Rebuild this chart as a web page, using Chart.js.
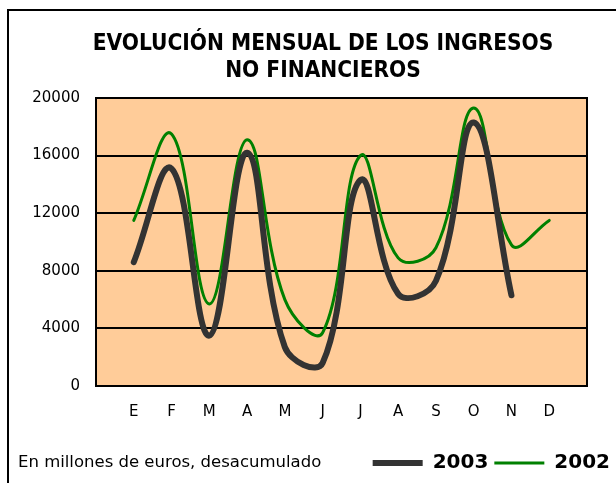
<!DOCTYPE html>
<html>
<head>
<meta charset="utf-8">
<script src="https://cdn.jsdelivr.net/npm/chart.js@4/dist/chart.umd.min.js"></script>
<style>
  html, body { margin: 0; padding: 0; background: #fff; }
  #wrap { width: 616px; height: 483px; }
</style>
</head>
<body>
<div id="wrap"><canvas id="lineChart" width="616" height="483"></canvas></div>
<script>
/* DATA */
const months = ["E", "F", "M", "A", "M", "J", "J", "A", "S", "O", "N", "D"];
const ingresos2003 = [8600, 15100, 3500, 16200, 2700, 1600, 14300, 6400, 7300, 18300, 6300, null];
const ingresos2002 = [11500, 17500, 5700, 17100, 6000, 3700, 16000, 8900, 9600, 19300, 9800, 11500];
const yTicks = [0, 4000, 8000, 12000, 16000, 20000];
const footnote = "En millones de euros, desacumulado";

Chart.defaults.color = "#000";
Chart.defaults.font.family = "'DejaVu Sans', Verdana, sans-serif";

/* background, plot frame, outer frame and footnote */
const decor = {
    id: "decor",
    beforeDraw(chart) {
        const {ctx, chartArea: a} = chart;
        ctx.save();
        ctx.fillStyle = "#FFCC99";
        ctx.fillRect(a.left, a.top, a.right - a.left, a.bottom - a.top);
        ctx.restore();
    },
    beforeDatasetsDraw(chart) {
        const {ctx, chartArea: a} = chart;
        ctx.save();
        ctx.strokeStyle = "#000";
        ctx.lineWidth = 2;
        ctx.strokeRect(a.left, a.top, a.right - a.left, a.bottom - a.top);
        ctx.restore();
    },
    afterDraw(chart) {
        const ctx = chart.ctx;
        ctx.save();
        ctx.strokeStyle = "#000";
        ctx.lineWidth = 2;
        ctx.strokeRect(8, 10, 800, 800);
        ctx.fillStyle = "#000";
        ctx.font = "16.5px 'DejaVu Sans'";
        ctx.textBaseline = "middle";
        ctx.fillText(footnote, 18, 463);
        ctx.restore();
    }
};

const toPoints = arr => arr.map((v, i) => ({x: i, y: v}));

new Chart(document.getElementById("lineChart"), {
    type: "line",
    data: {
        datasets: [{
            label: "2003",
            data: toPoints(ingresos2003),
            borderColor: "#333333",
            backgroundColor: "#333333",
            borderWidth: 6,
            borderCapStyle: "round",
            tension: 0.4,
            pointRadius: 0
        }, {
            label: "2002",
            data: toPoints(ingresos2002),
            borderColor: "#008000",
            backgroundColor: "#008000",
            borderWidth: 3,
            borderCapStyle: "round",
            tension: 0.4,
            pointRadius: 0
        }]
    },
    options: {
        responsive: false,
        animation: false,
        layout: { padding: { left: 30, right: 0, top: 0, bottom: 0 } },
        plugins: {
            title: {
                display: true,
                text: ["EVOLUCIÓN MENSUAL DE LOS INGRESOS", "NO FINANCIEROS"],
                font: { family: "'DejaVu Sans Condensed', 'DejaVu Sans', sans-serif", size: 22.5, weight: "bold" },
                lineHeight: 1.29,
                padding: { top: 31, bottom: 13 }
            },
            legend: {
                position: "bottom",
                align: "end",
                labels: {
                    usePointStyle: true,
                    pointStyle: "line",
                    pointStyleWidth: 50,
                    padding: 6,
                    font: { size: 20, weight: "bold" }
                }
            },
            tooltip: { enabled: false }
        },
        scales: {
            x: {
                type: "linear",
                min: -1,
                max: 12,
                grid: { display: false },
                border: { display: true, color: "#000", width: 2 },
                ticks: {
                    stepSize: 1,
                    autoSkip: false,
                    maxRotation: 0,
                    padding: 9,
                    font: { size: 15 },
                    callback: v => months[v] ?? ""
                },
                afterFit(s) { s.height = 61; }
            },
            y: {
                min: 0,
                max: 20000,
                grid: { color: "#000", lineWidth: 2, drawTicks: false },
                border: { display: true, color: "#000", width: 2 },
                afterBuildTicks(s) { s.ticks = yTicks.map(v => ({value: v})); },
                ticks: { padding: 16, font: { size: 15 }, callback: v => String(v) },
                afterFit(s) { s.width = 66; }
            },
            yr: {
                position: "right",
                grid: { display: false },
                border: { display: false },
                ticks: { display: false },
                afterFit(s) { s.width = 29; }
            }
        }
    },
    plugins: [decor]
});
</script>
</body>
</html>
